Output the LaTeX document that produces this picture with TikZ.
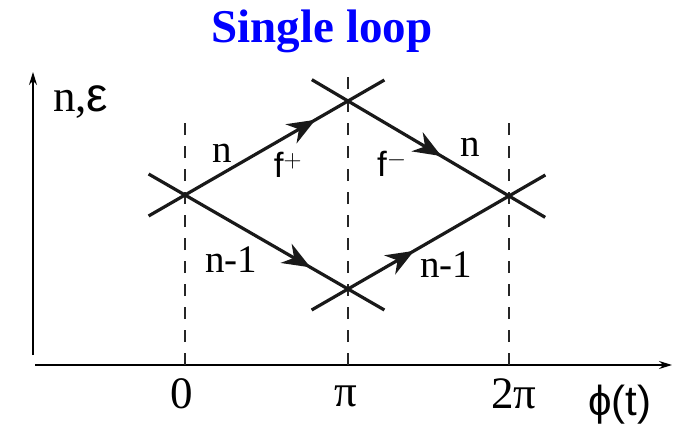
\documentclass[tikz,border=0pt]{standalone}
\usepackage{fontspec}
\setmainfont{Liberation Serif}
\newfontfamily\labelsans{Liberation Sans}
\usepackage{xcolor}
\definecolor{titleBlue}{HTML}{0000FF}
\usetikzlibrary{arrows.meta, calc, decorations.markings}

\begin{document}
\begin{tikzpicture}[
        x=1pt, y=-1pt,
        >=Stealth,
        levelLine/.style={
            line width=3.2pt,
            black!90
        },
        gridLine/.style={
            dash pattern=on 12pt off 11pt,
            line width=1.2pt,
            black!85
        },
        axisLine/.style={
            -{Stealth[length=13pt, width=8pt]},
            line width=1.4pt
        },
        flowMark/.style={
            postaction={decorate},
            decoration={markings,
                mark=at position #1 with {\arrow{Stealth[length=28pt, width=22pt, inset=9pt]}}}
        },
        serifLabel/.style={
            inner sep=0pt,
            anchor=base,
            font=\fontsize{39}{42}\selectfont
        },
        sansLabel/.style={
            inner sep=0pt,
            anchor=base,
            font=\labelsans\fontsize{35}{38}\selectfont
        },
        tickLabel/.style={
            inner sep=0pt,
            anchor=base,
            font=\fontsize{45}{48}\selectfont
        }
    ]

    \useasboundingbox (0,0) rectangle (675,428);

    % Title
    \node[inner sep=0pt, anchor=base, text=titleBlue,
          font=\bfseries\fontsize{47}{50}\selectfont] (title) at (322,43) {Single loop};

    % Axes
    \coordinate (yfoot) at (33,355);
    \coordinate (ytip) at (33,72);
    \coordinate (xfoot) at (35,365);
    \coordinate (xtip) at (672,365);
    \draw[axisLine] (yfoot) -- (ytip);
    \draw[axisLine] (xfoot) -- (xtip);

    % Crossing points of the levels
    \coordinate (L) at (185,195);
    \coordinate (T) at (348,101);
    \coordinate (R) at (509,196);
    \coordinate (B) at (348,289);

    % Dashed guides at 0, pi, 2pi
    \draw[gridLine] (185,365) -- (185,120);
    \draw[gridLine] (348,365) -- (348,72);
    \draw[gridLine] (509,365) -- (509,120);

    % Arms of each crossing
    \foreach \c/\p/\q in {L/T/B, T/L/R, R/T/B, B/L/R}
        \draw[levelLine] ($(\c)!-42pt!(\p)$) -- (\c) -- ($(\c)!-42pt!(\q)$);

    % Levels with flow arrows
    \draw[levelLine, flowMark=0.80] (L) -- (T);
    \draw[levelLine, flowMark=0.58] (T) -- (R);
    \draw[levelLine, flowMark=0.77] (L) -- (B);
    \draw[levelLine, flowMark=0.41] (B) -- (R);

    % Level labels
    \node[serifLabel] (nUp) at (222,162) {n};
    \node[serifLabel] (nRight) at (470,156) {n};
    \node[serifLabel] (nmLeft) at (231,272) {n-1};
    \node[serifLabel] (nmRight) at (446,277) {n-1};
    \node[sansLabel] (fPlus) at (288,177) {f$^{+}$};
    \node[sansLabel] (fMinus) at (392,176) {f$^{-}$};

    % Axis labels
    \node[serifLabel, anchor=base west, font=\fontsize{45}{48}\selectfont] (yLabel) at (53,111) {n,{\labelsans\fontsize{48}{50}\selectfont ε}};
    \node[tickLabel] (tick0) at (182,408) {0};
    \node[tickLabel] (tickPi) at (346,406) {π};
    \node[tickLabel] (tickTwoPi) at (514,408) {2π};
    \node[inner sep=0pt, anchor=base west, font=\labelsans\fontsize{42}{44}\selectfont] (xLabel) at (588,415) {ϕ(t)};

    \end{tikzpicture}
\end{document}
